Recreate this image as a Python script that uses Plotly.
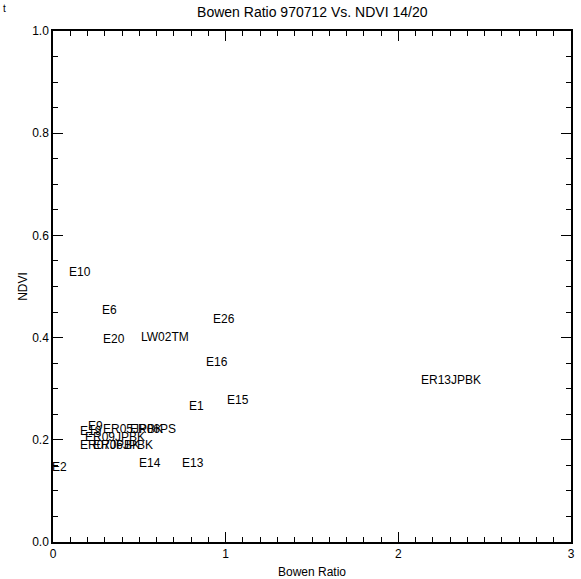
import plotly.graph_objects as go

# Station labels and their (Bowen Ratio, NDVI) positions
labels = ["E10", "E6", "E20", "LW02TM", "E26", "E16", "E15", "E1", "E13", "E14",
          "E2", "ER13JPBK", "E19", "E9", "ER05JPBK", "ER06PS", "ER09JPBK",
          "ER07JPBK", "ER06JPBK"]
bowen = [0.085, 0.276, 0.281, 0.503, 0.919, 0.883, 1.000, 0.782, 0.744, 0.491,
         0.000, 2.125, 0.150, 0.198, 0.283, 0.439, 0.181, 0.150, 0.225]
ndvi = [0.522, 0.449, 0.392, 0.396, 0.431, 0.346, 0.272, 0.260, 0.148, 0.148,
        0.140, 0.311, 0.211, 0.221, 0.215, 0.215, 0.199, 0.183, 0.183]

x_ticks = [0, 1, 2, 3]
x_ticklabels = ["0", "1", "2", "3"]
y_ticks = [0.0, 0.2, 0.4, 0.6, 0.8, 1.0]
y_ticklabels = ["0.0", "0.2", "0.4", "0.6", "0.8", "1.0"]

FONT = "Liberation Sans"

fig = go.Figure()
fig.add_trace(go.Scatter(x=bowen, y=ndvi, mode="markers",
                         marker=dict(size=1, opacity=0), hoverinfo="skip",
                         showlegend=False))

annotations = []
for lab, xv, yv in zip(labels, bowen, ndvi):
    annotations.append(dict(x=xv, y=yv, xref="x", yref="y", text=lab,
                            showarrow=False, xanchor="left", yanchor="bottom",
                            yshift=-5, xshift=-2 if xv <= 0 else 0, borderpad=0,
                            font=dict(family=FONT, size=12, color="black")))
annotations.append(dict(x=-0.094, y=1.045, xref="paper", yref="paper", text="t",
                        showarrow=False, xanchor="center", yanchor="middle",
                        font=dict(family=FONT, size=10, color="black")))

axis_common = dict(showline=True, linecolor="black", linewidth=1.5, mirror="allticks",
                   ticks="inside", tickcolor="black", tickwidth=1, ticklen=10,
                   showgrid=False, zeroline=False,
                   tickfont=dict(family=FONT, size=12, color="black"))

fig.update_layout(
    width=581, height=579,
    margin=dict(l=53, r=8, t=31, b=37),
    paper_bgcolor="white", plot_bgcolor="white",
    title=dict(text="Bowen Ratio 970712 Vs. NDVI 14/20", x=0.5375, xanchor="center",
               y=1 - 12 / 579, yanchor="middle",
               font=dict(family=FONT, size=14, color="black")),
    xaxis=dict(range=[0, 3], tickvals=x_ticks, ticktext=x_ticklabels, automargin=False,
               title=dict(text="Bowen Ratio",
                          font=dict(family=FONT, size=12, color="black")),
               minor=dict(dtick=0.1, ticks="inside", ticklen=5, tickcolor="black",
                          tickwidth=1, showgrid=False),
               **axis_common),
    yaxis=dict(range=[0, 1], tickvals=y_ticks, ticktext=y_ticklabels, automargin=True,
               title=dict(text="NDVI", standoff=2,
                          font=dict(family=FONT, size=12, color="black")),
               minor=dict(dtick=0.05, ticks="inside", ticklen=5, tickcolor="black",
                          tickwidth=1, showgrid=False),
               **axis_common),
    annotations=annotations,
)

fig.write_html("out.html")
